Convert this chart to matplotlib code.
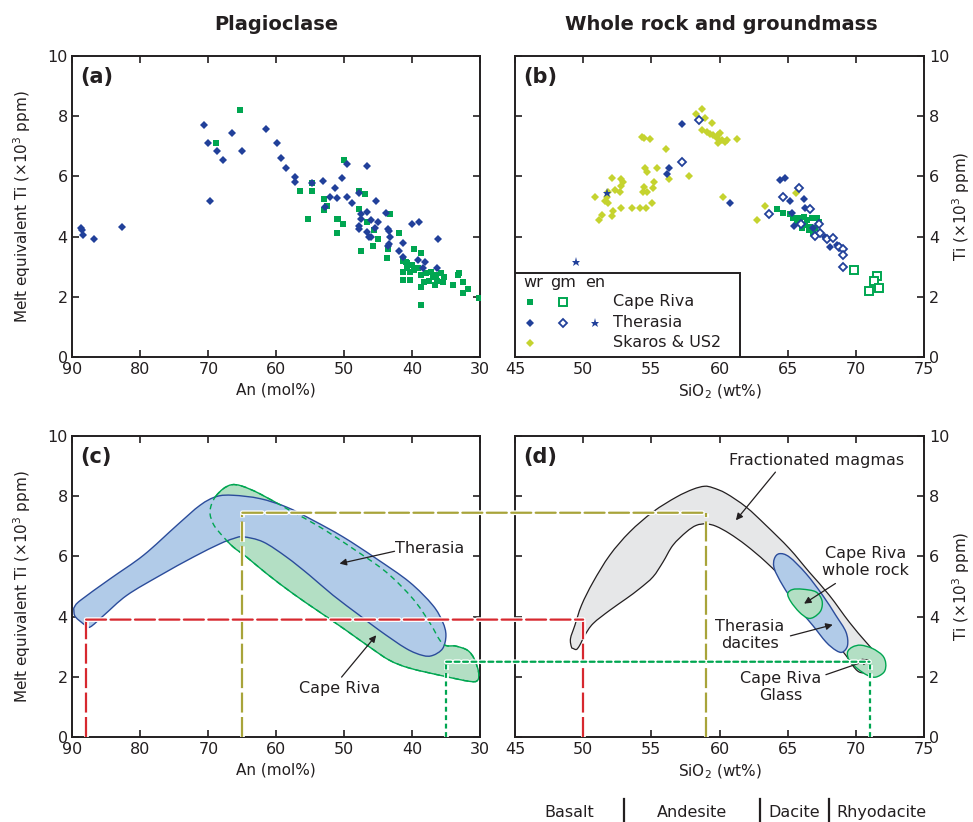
import matplotlib
matplotlib.use("Agg")
import matplotlib.pyplot as plt
import matplotlib.patheffects as pe
import matplotlib.transforms as mtransforms
from matplotlib.patches import PathPatch, ConnectionPatch, Rectangle
from matplotlib.path import Path
import numpy as np

# ---- panel (a): plagioclase An vs melt equivalent Ti ----
an_therasia = [88.7, 88.6, 88.4, 86.9, 82.7, 70.7, 70.0, 68.8, 67.8, 66.5, 65.0, 69.7,
               61.5, 59.9, 59.3, 58.6, 57.3, 57.3, 54.8, 53.2, 52.9, 52.1, 51.3, 51.0,
               50.4, 49.6, 49.6, 48.8, 47.8, 47.5, 47.6, 46.7, 46.6, 47.8, 47.8, 46.6,
               46.1, 46.3, 46.0, 45.5, 45.3, 45.0, 43.8, 43.6, 43.4, 43.3, 43.4, 43.6,
               41.9, 41.3, 41.3, 40.0, 39.0, 39.1, 38.4, 38.1, 36.2, 36.3]
ti_therasia = [4.30, 4.22, 4.04, 3.92, 4.31, 7.70, 7.12, 6.85, 6.53, 7.44, 6.85, 5.19,
               7.57, 7.12, 6.60, 6.29, 5.97, 5.83, 5.77, 5.85, 4.99, 5.32, 5.63, 5.27,
               5.96, 6.41, 5.32, 5.13, 5.46, 4.74, 4.60, 4.83, 6.35, 4.36, 4.24, 4.16,
               4.55, 4.00, 3.98, 4.30, 5.19, 4.50, 4.80, 4.24, 4.17, 3.97, 3.75, 3.70,
               3.53, 3.78, 3.33, 4.42, 4.50, 3.22, 2.97, 3.14, 3.92, 2.97]

an_caperiva = [65.3, 68.9, 50.1, 56.5, 54.8, 54.8, 53.0, 52.6, 53.0, 55.3, 51.0, 50.9,
               50.2, 51.1, 47.8, 47.0, 47.8, 46.7, 43.2, 45.6, 45.0, 45.7, 47.6, 43.6,
               43.7, 41.9, 41.4, 39.7, 38.7, 40.7, 40.0, 39.2, 40.4, 41.4, 41.4, 40.3,
               38.7, 38.0, 37.2, 37.0, 36.5, 35.8, 35.3, 36.3, 37.5, 38.2, 38.7, 36.7,
               35.5, 34.0, 33.3, 33.1, 32.6, 32.6, 31.8, 30.1, 38.7, 40.7, 39.7, 40.9]
ti_caperiva = [8.21, 7.10, 6.53, 5.51, 5.77, 5.51, 5.25, 5.02, 4.88, 4.60, 4.57, 4.60,
               4.42, 4.11, 5.51, 5.43, 4.93, 4.47, 4.74, 4.22, 3.92, 3.70, 3.52, 3.58,
               3.29, 4.11, 3.20, 3.59, 3.44, 3.11, 3.06, 2.95, 2.83, 2.81, 2.56, 2.56,
               2.72, 2.78, 2.83, 2.67, 2.72, 2.78, 2.67, 2.52, 2.52, 2.50, 2.31, 2.39,
               2.50, 2.39, 2.72, 2.78, 2.50, 2.11, 2.26, 1.97, 1.73, 2.95, 2.89, 3.17]

# ---- panel (b): whole rock (wr), groundmass (gm), enclave (en) ----
sio2_skaros = [58.26, 58.75, 58.94, 59.43, 58.70, 59.07, 59.31, 59.55, 59.92, 60.04,
               59.80, 60.17, 60.53, 59.92, 60.41, 61.27, 54.30, 54.47, 54.91, 56.06,
               54.54, 54.66, 55.40, 56.30, 57.77, 52.75, 52.09, 52.95, 52.78, 52.34,
               52.71, 51.85, 51.73, 50.87, 51.60, 51.85, 52.22, 52.14, 51.36, 51.19,
               52.75, 53.56, 54.17, 54.59, 55.08, 54.47, 54.42, 54.66, 55.15, 55.23,
               60.29, 63.30, 62.76, 65.62]
ti_skaros = [8.06, 8.23, 7.93, 7.78, 7.54, 7.48, 7.41, 7.37, 7.37, 7.43,
             7.26, 7.21, 7.21, 7.10, 7.15, 7.24, 7.32, 7.28, 7.24, 6.90,
             6.27, 6.13, 6.27, 5.91, 6.01, 5.91, 5.93, 5.82, 5.69, 5.55,
             5.49, 5.49, 5.33, 5.33, 5.19, 5.10, 4.85, 4.68, 4.72, 4.55,
             4.96, 4.96, 4.96, 4.96, 5.13, 5.66, 5.49, 5.49, 5.60, 5.80,
             5.30, 5.03, 4.56, 5.44]

sio2_therasia_wr = [57.28, 56.30, 56.13, 60.78, 64.45, 64.81, 65.18, 65.30, 65.47,
                    66.16, 66.28, 66.89, 67.75, 68.12, 68.60, 68.85]
ti_therasia_wr = [7.73, 6.29, 6.08, 5.10, 5.88, 5.93, 5.18, 4.77, 4.36,
                  5.25, 4.96, 4.27, 4.00, 3.66, 3.72, 3.66]

sio2_therasia_gm = [58.48, 57.28, 64.62, 65.84, 66.65, 63.61, 65.99, 67.33, 67.01,
                    67.38, 67.87, 68.29, 68.78, 69.09, 69.02, 69.02]
ti_therasia_gm = [7.87, 6.49, 5.30, 5.60, 4.90, 4.75, 4.42, 4.42, 4.02,
                  4.11, 3.92, 3.94, 3.66, 3.59, 3.39, 2.98]

sio2_therasia_en = [49.48, 51.78]
ti_therasia_en = [3.16, 5.46]

sio2_caperiva_wr = [64.20, 64.64, 65.42, 65.79, 66.16, 66.40, 66.77, 67.14, 65.91,
                    66.28, 66.65, 67.01, 66.04, 66.53, 66.89, 67.26, 65.67, 65.18]
ti_caperiva_wr = [4.92, 4.79, 4.61, 4.61, 4.66, 4.55, 4.61, 4.61, 4.44,
                  4.38, 4.33, 4.27, 4.27, 4.22, 4.11, 4.50, 4.50, 4.74]

sio2_caperiva_gm = [69.88, 71.54, 71.34, 70.98, 71.69]
ti_caperiva_gm = [2.89, 2.70, 2.54, 2.20, 2.28]

# ---- panel (c): outlines of plagioclase fields ----
c_therasia_an = [89.71, 88.83, 84.43, 79.54, 74.65, 71.22, 68.78, 66.33, 62.42, 58.51,
                 54.60, 50.20, 45.31, 40.42, 36.99, 35.52, 35.04, 35.52, 36.99, 38.46,
                 40.90, 44.82, 47.75, 51.66, 55.09, 58.51, 61.93, 64.87, 66.33, 68.29,
                 72.20, 77.09, 81.98, 85.40, 87.36, 88.09, 89.56, 89.80]
c_therasia_ti = [4.32, 4.54, 5.26, 6.04, 7.03, 7.70, 7.99, 8.03, 7.92, 7.64,
                 7.20, 6.65, 5.93, 5.15, 4.38, 3.82, 3.38, 2.94, 2.71, 2.71,
                 2.94, 3.54, 4.04, 4.71, 5.37, 5.98, 6.48, 6.65, 6.59, 6.42,
                 5.98, 5.37, 4.71, 4.04, 3.66, 3.71, 3.99, 4.21]

c_caperiva_an = [68.87, 67.80, 66.58, 65.11, 62.42, 58.02, 53.62, 48.73, 43.84, 39.93,
                 37.48, 35.52, 33.57, 31.86, 30.88, 30.24, 30.39, 31.61, 35.52, 40.42,
                 43.35, 46.28, 49.71, 53.62, 57.53, 61.44, 64.38, 66.33, 67.80, 69.17,
                 69.76, 69.51]
c_caperiva_ti = [8.01, 8.25, 8.38, 8.34, 8.08, 7.53, 6.98, 6.26, 5.48, 4.60,
                 3.82, 3.10, 3.02, 2.88, 2.60, 2.16, 1.88, 1.85, 2.03, 2.29,
                 2.55, 2.99, 3.54, 4.15, 4.76, 5.43, 5.98, 6.31, 6.65, 7.03,
                 7.42, 7.75]

# ---- panel (d): outlines of whole rock / glass fields ----
d_fract_sio2 = [49.14, 49.07, 49.39, 49.88, 50.73, 51.95, 53.41, 55.12, 56.83, 58.05,
                58.90, 59.51, 60.49, 61.95, 63.41, 65.12, 66.58, 68.05, 69.51, 70.73,
                71.83, 72.07, 71.46, 70.24, 69.27, 68.29, 67.31, 66.34, 65.12, 63.41,
                61.95, 60.73, 59.75, 59.02, 58.29, 57.56, 56.58, 55.85, 55.12, 54.14,
                53.17, 51.95, 50.73, 50.12, 49.75, 49.51, 49.27]
d_fract_ti = [2.99, 3.27, 3.71, 4.38, 5.15, 6.04, 6.81, 7.48, 7.97, 8.23,
              8.33, 8.28, 8.09, 7.64, 7.03, 6.26, 5.48, 4.71, 3.82, 3.16,
              2.60, 2.44, 2.22, 2.16, 2.71, 3.27, 3.82, 4.37, 5.04, 5.81,
              6.37, 6.76, 7.00, 7.08, 7.03, 6.81, 6.37, 5.81, 5.32, 4.93,
              4.60, 4.21, 3.77, 3.38, 3.05, 2.91, 2.94]

d_therasia_sio2 = [64.02, 64.39, 65.12, 66.34, 67.56, 68.53, 69.27, 69.39, 69.02, 68.53,
                   67.80, 66.83, 65.61, 64.63, 64.02]
d_therasia_ti = [5.92, 6.09, 5.98, 5.43, 4.71, 4.04, 3.49, 3.05, 2.82, 2.88,
                 3.16, 3.71, 4.37, 5.04, 5.59]

d_crwr_sio2 = [65.00, 65.36, 66.09, 67.07, 67.51, 67.44, 66.95, 66.46, 65.85, 65.24]
d_crwr_ti = [4.76, 4.90, 4.91, 4.82, 4.54, 4.21, 3.99, 3.95, 4.15, 4.49]

d_glass_sio2 = [69.39, 69.75, 70.36, 71.22, 71.95, 72.19, 72.07, 71.46, 70.85, 70.12, 69.51]
d_glass_ti = [2.82, 2.99, 3.05, 2.94, 2.71, 2.44, 2.16, 1.99, 2.05, 2.27, 2.55]

# links between plagioclase An and melt SiO2: (An, SiO2, Ti)
link_red = (88.0, 50.0, 3.9)
link_gold = (65.0, 59.0, 7.45)
link_green = (35.0, 71.0, 2.5)

rock_names = ["Basalt", "Andesite", "Dacite", "Rhyodacite"]
rock_centres = [49.0, 58.0, 65.5, 71.9]
rock_bounds = [53, 63, 68]

GREEN = "#00a651"
BLUE = "#21409a"
YGREEN = "#c5d32f"
TXT = "#231f20"
RED = "#d7282f"
GOLD = "#a8a43a"

plt.rcParams["font.family"] = "DejaVu Sans"
plt.rcParams["text.color"] = TXT
plt.rcParams["axes.labelcolor"] = TXT
plt.rcParams["xtick.color"] = TXT
plt.rcParams["ytick.color"] = TXT


def smooth_patch(xs, ys, **kw):
    # closed Catmull-Rom curve through the outline points, as cubic Beziers
    p = np.column_stack([xs, ys])
    n = len(p)
    verts = [p[0]]
    codes = [Path.MOVETO]
    for i in range(n):
        p0, p1, p2, p3 = p[i - 1], p[i], p[(i + 1) % n], p[(i + 2) % n]
        verts += [p1 + (p2 - p0) / 6.0, p2 - (p3 - p1) / 6.0, p2]
        codes += [Path.CURVE4] * 3
    verts.append(p[0])
    codes.append(Path.CLOSEPOLY)
    return PathPatch(Path(verts, codes), **kw)


def style_axes(ax, right=False):
    ax.set_ylim(0, 10)
    ax.set_yticks([0, 2, 4, 6, 8, 10])
    ax.tick_params(direction="in", top=True, right=True, left=True, bottom=True,
                   length=5, width=1.2, labelsize=11.5)
    if right:
        ax.tick_params(labelleft=False, labelright=True)
        ax.yaxis.set_label_position("right")
        ax.set_ylabel(r"Ti ($\times$10$^3$ ppm)", fontsize=11, labelpad=0.5)
    else:
        ax.set_ylabel(r"Melt equivalent Ti ($\times$10$^3$ ppm)", fontsize=11, labelpad=10)
    for s in ax.spines.values():
        s.set_linewidth(1.4)
        s.set_color(TXT)


fig = plt.figure(figsize=(9.73, 8.22), dpi=100)
ax_a = fig.add_axes([0.0745, 0.5657, 0.419, 0.3662])
ax_b = fig.add_axes([0.5293, 0.5657, 0.4204, 0.3662])
ax_c = fig.add_axes([0.0745, 0.1034, 0.419, 0.3662])
ax_d = fig.add_axes([0.5293, 0.1034, 0.4204, 0.3662])

for ax in (ax_a, ax_c):
    ax.set_xlim(90, 30)
    ax.set_xticks([90, 80, 70, 60, 50, 40, 30])
    ax.set_xlabel("An (mol%)", fontsize=11)
    style_axes(ax)
for ax in (ax_b, ax_d):
    ax.set_xlim(45, 75)
    ax.set_xticks([45, 50, 55, 60, 65, 70, 75])
    ax.set_xlabel(r"SiO$_2$ (wt%)", fontsize=11)
    style_axes(ax, right=True)

# (a)
ax_a.plot(an_caperiva, ti_caperiva, "s", color=GREEN, ms=5, mew=0, zorder=3)
ax_a.plot(an_therasia, ti_therasia, "D", color=BLUE, ms=4.5, mew=0, zorder=4)

# (b)
ax_b.plot(sio2_skaros, ti_skaros, "D", color=YGREEN, ms=4.2, mew=0, zorder=3)
ax_b.plot(sio2_caperiva_wr, ti_caperiva_wr, "s", color=GREEN, ms=5, mew=0, zorder=3)
ax_b.plot(sio2_caperiva_gm, ti_caperiva_gm, "s", mfc="white", mec=GREEN, ms=5.5, mew=1.4, zorder=3)
ax_b.plot(sio2_therasia_wr, ti_therasia_wr, "D", color=BLUE, ms=4.2, mew=0, zorder=4)
ax_b.plot(sio2_therasia_gm, ti_therasia_gm, "D", mfc="white", mec=BLUE, ms=4.5, mew=1.3, zorder=4)
ax_b.plot(sio2_therasia_en, ti_therasia_en, "*", color=BLUE, ms=6.5, mew=0, zorder=4)

# legend of (b), drawn by hand as in the original
ax_b.add_patch(Rectangle((0, 0), 0.55, 0.279, transform=ax_b.transAxes, fc="white",
                         ec=TXT, lw=1.4, zorder=5))
for x, t in zip([0.045, 0.117, 0.196], ["wr", "gm", "en"]):
    ax_b.text(x, 0.246, t, transform=ax_b.transAxes, ha="center", va="center",
              fontsize=11.5, zorder=6)
leg_rows = [0.183, 0.113, 0.047]
ax_b.plot([0.037], [leg_rows[0]], "s", color=GREEN, ms=5, mew=0, transform=ax_b.transAxes, zorder=6)
ax_b.plot([0.117], [leg_rows[0]], "s", mfc="white", mec=GREEN, ms=5.5, mew=1.4, transform=ax_b.transAxes, zorder=6)
ax_b.plot([0.037], [leg_rows[1]], "D", color=BLUE, ms=4.2, mew=0, transform=ax_b.transAxes, zorder=6)
ax_b.plot([0.117], [leg_rows[1]], "D", mfc="white", mec=BLUE, ms=4.5, mew=1.3, transform=ax_b.transAxes, zorder=6)
ax_b.plot([0.196], [leg_rows[1]], "*", color=BLUE, ms=6.5, mew=0, transform=ax_b.transAxes, zorder=6)
ax_b.plot([0.037], [leg_rows[2]], "D", color=YGREEN, ms=4.2, mew=0, transform=ax_b.transAxes, zorder=6)
for y, t in zip(leg_rows, ["Cape Riva", "Therasia", "Skaros & US2"]):
    ax_b.text(0.24, y, t, transform=ax_b.transAxes, ha="left", va="center",
              fontsize=11.5, zorder=6)

# (c)
ax_c.add_patch(smooth_patch(c_caperiva_an, c_caperiva_ti, fc="#b3dfc4", ec=GREEN, lw=1.0, zorder=2))
ax_c.add_patch(smooth_patch(c_therasia_an, c_therasia_ti, fc="#b1cbe8", ec="#2b4c9b", lw=1.0, zorder=3))
ax_c.add_patch(smooth_patch(c_caperiva_an, c_caperiva_ti, fc="none", ec=GREEN, lw=1.0,
                            ls=(0, (4, 3)), zorder=4))

arrow_kw = dict(arrowstyle="-|>", color=TXT, lw=0.9, mutation_scale=10, shrinkA=0, shrinkB=0)
ax_c.text(42.6, 6.26, "Therasia", fontsize=11.5, ha="left", va="center", zorder=6)
ax_c.annotate("", xy=(50.7, 5.76), xytext=(42.6, 6.17), arrowprops=arrow_kw, zorder=6)
ax_c.text(50.7, 1.6, "Cape Riva", fontsize=11.5, ha="center", va="center", zorder=6)
ax_c.annotate("", xy=(45.3, 3.38), xytext=(50.4, 1.99), arrowprops=arrow_kw, zorder=6)

# (d)
ax_d.add_patch(smooth_patch(d_fract_sio2, d_fract_ti, fc="#e6e7e8", ec=TXT, lw=0.9, zorder=2))
ax_d.add_patch(smooth_patch(d_therasia_sio2, d_therasia_ti, fc="#b1cbe8", ec="#2b4c9b", lw=1.0, zorder=3))
ax_d.add_patch(smooth_patch(d_crwr_sio2, d_crwr_ti, fc="#b3dfc4", ec=GREEN, lw=1.0, zorder=4))
ax_d.add_patch(smooth_patch(d_glass_sio2, d_glass_ti, fc="#b3dfc4", ec=GREEN, lw=1.0, zorder=4))

ax_d.text(67.1, 9.19, "Fractionated magmas", fontsize=11.5, ha="center", va="center", zorder=6)
ax_d.annotate("", xy=(61.2, 7.2), xytext=(64.1, 8.8), arrowprops=arrow_kw, zorder=6)
ax_d.text(70.7, 5.81, "Cape Riva\nwhole rock", fontsize=11.5, ha="center", va="center",
          linespacing=1.15, zorder=6)
ax_d.annotate("", xy=(66.2, 4.43), xytext=(68.5, 5.1), arrowprops=arrow_kw, zorder=6)
ax_d.text(62.2, 3.38, "Therasia\ndacites", fontsize=11.5, ha="center", va="center",
          linespacing=1.15, zorder=6)
ax_d.annotate("", xy=(68.3, 3.73), xytext=(65.2, 3.36), arrowprops=arrow_kw, zorder=6)
ax_d.text(64.5, 1.66, "Cape Riva\nGlass", fontsize=11.5, ha="center", va="center",
          linespacing=1.15, zorder=6)
ax_d.annotate("", xy=(71.0, 2.57), xytext=(67.8, 2.07), arrowprops=arrow_kw, zorder=6)

# dashed links from (c) to (d)
halo = [pe.withStroke(linewidth=3.4, foreground="white")]
for (an, si, ti), col, ls in [(link_red, RED, (0, (9, 2))),
                              (link_gold, GOLD, (0, (9, 2))),
                              (link_green, GREEN, (0, (2.2, 1.6)))]:
    ax_c.plot([an, an], [0, ti], color=col, lw=1.6, ls=ls, zorder=7, path_effects=halo)
    ax_d.plot([si, si], [0, ti], color=col, lw=1.6, ls=ls, zorder=7, path_effects=halo)
    con = ConnectionPatch(xyA=(an, ti), coordsA=ax_c.transData, xyB=(si, ti),
                          coordsB=ax_d.transData, color=col, lw=1.6, linestyle=ls)
    con.set_path_effects(halo)
    fig.add_artist(con)

# panel letters and titles
for ax, lab in zip((ax_a, ax_b, ax_c, ax_d), ["(a)", "(b)", "(c)", "(d)"]):
    ax.text(0.02, 0.965, lab, transform=ax.transAxes, fontsize=15, fontweight="bold",
            ha="left", va="top", zorder=8)
fig.text(0.2837, 0.9696, "Plagioclase", fontsize=14, fontweight="bold", ha="center", va="center")
fig.text(0.741, 0.9696, "Whole rock and groundmass", fontsize=14, fontweight="bold",
         ha="center", va="center")

# rock names under (d)
trans = mtransforms.blended_transform_factory(ax_d.transData, fig.transFigure)
for x, name in zip(rock_centres, rock_names):
    fig.text(x, 0.012, name, transform=trans, fontsize=11.5, ha="center", va="center")
for x in rock_bounds:
    fig.add_artist(plt.Line2D([x, x], [0.0, 0.028], transform=trans, color=TXT, lw=1.6))

fig.savefig("out.png", dpi=100)
